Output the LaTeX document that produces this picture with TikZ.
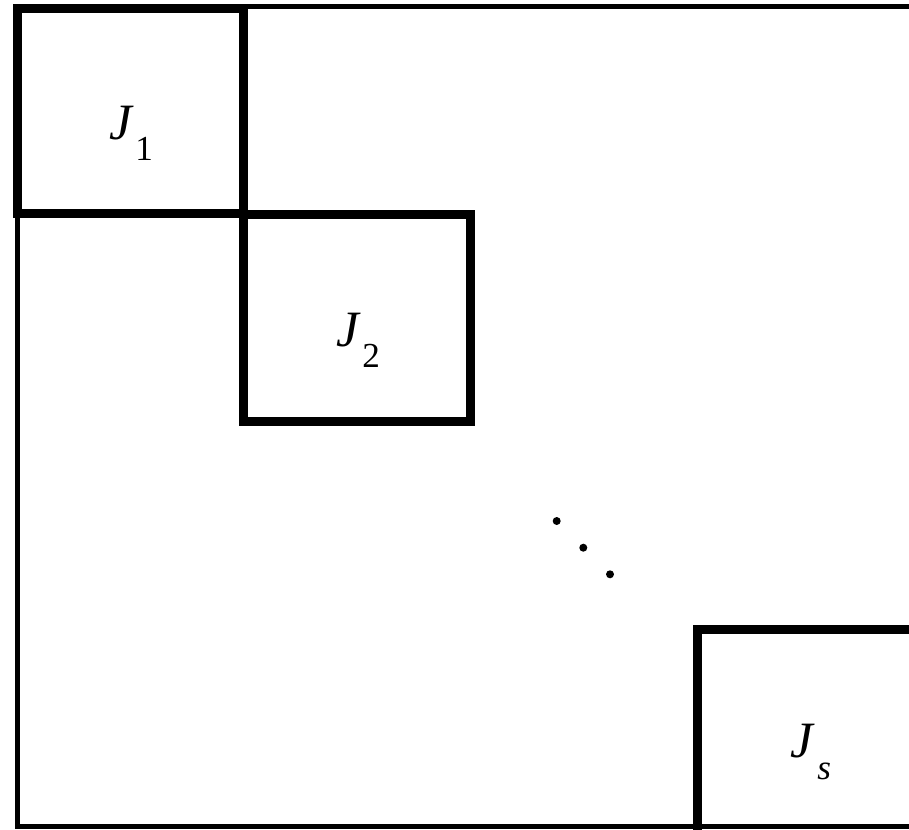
\documentclass[tikz,border=0pt]{standalone}
\usepackage{fontspec}
\setmainfont{Liberation Serif}
\usetikzlibrary{positioning}
\newcommand{\blockname}[2]{\textit{#1}\kern1pt\raisebox{-12pt}{\fontsize{20}{22}\selectfont #2}}
\begin{document}
\begin{tikzpicture}[x=0.02cm, y=-0.02cm,
    frame/.style={line width=0.1cm},
    blockbox/.style={draw, line width=0.18cm, inner sep=0pt},
    blocklabel/.style={font=\fontsize{29}{33}\selectfont, inner sep=0pt}]
  \useasboundingbox (0,0) rectangle (909,829);
  \clip (0,0) rectangle (909,829);
  % outer matrix
  \draw[frame] (17.5,6.5) rectangle (960,826.5);
  % diagonal blocks
  \node[blockbox, minimum width=4.52cm, minimum height=4.11cm] (b1) at (130.5,110.75) {};
  \node[blockbox, minimum width=4.54cm, minimum height=4.14cm] (b2) at (357,318) {};
  \node[blockbox, minimum width=4.54cm, minimum height=4.14cm] (bs) at (811,733) {};
  % labels
  \node[blocklabel] (l1) at (131,133) {\blockname{J}{1}};
  \node[blocklabel] (l2) at (358,340) {\blockname{J}{2}};
  \node[blocklabel] (ls) at (811,752) {\blockname{J}{\textit{s}}};
  % dots
  \fill (556.7,521) circle[radius=0.08cm];
  \fill (583.3,547.7) circle[radius=0.08cm];
  \fill (610,574.3) circle[radius=0.08cm];
\end{tikzpicture}
\end{document}
